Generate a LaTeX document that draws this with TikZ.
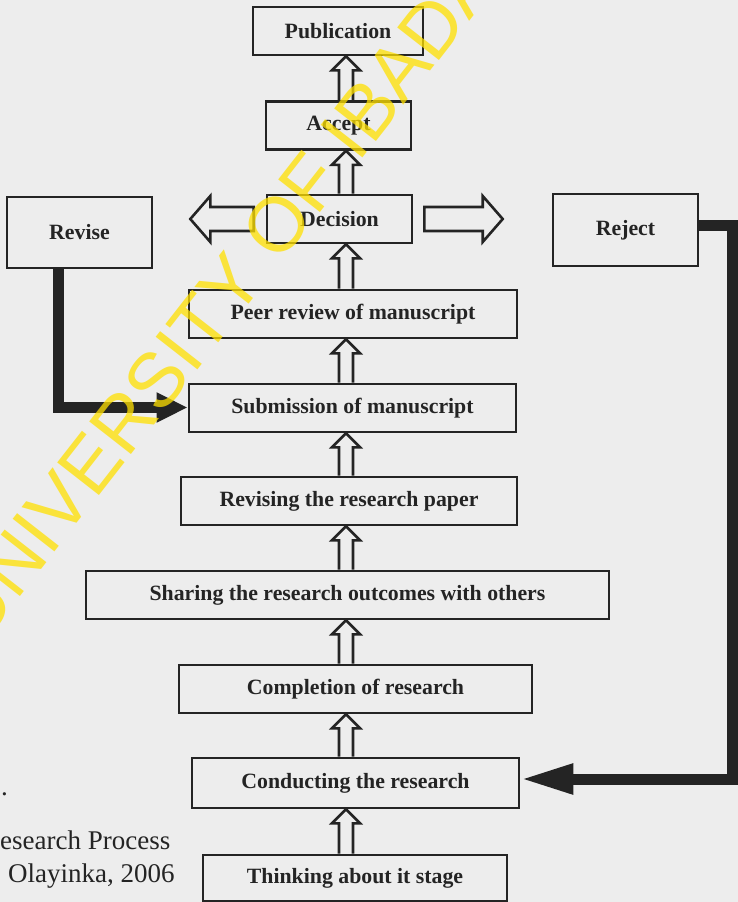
\documentclass[tikz,border=0pt]{standalone}
\usepackage{fontspec}
\setmainfont{Liberation Serif}
\newfontfamily\wmfont{Liberation Sans}
\usetikzlibrary{arrows.meta,calc}
\definecolor{paper}{RGB}{237,237,237}
\definecolor{ink}{RGB}{36,36,36}
\definecolor{wmyellow}{RGB}{255,224,0}
\begin{document}
\begin{tikzpicture}[x=1pt,y=-1pt,
  box/.style={draw=ink, line width=2.6pt, inner sep=0pt, minimum height=48pt,
    font=\fontsize{21.8}{24}\selectfont\bfseries, text=ink},
  thickconn/.style={draw=ink, line width=11pt, line join=miter},
  hollowup/.style={draw=ink, line width=2.6pt, line join=miter,
    to path={let \p1=(\tikztostart), \p2=(\tikztotarget) in
      (\x1-7pt,\y1) -- (\x1-7pt,\y2-14pt) -- (\x1-14pt,\y2-14pt) -- (\x1,\y2)
      -- (\x1+14pt,\y2-14pt) -- (\x1+7pt,\y2-14pt) -- (\x1+7pt,\y1)}},
  hollowh/.style={draw=ink, line width=2.6pt, line join=miter,
    to path={let \p1=(\tikztostart), \p2=(\tikztotarget), \n1={sign(\x2-\x1)} in
      (\x1,\y1+12pt) -- (\x2-\n1*20pt,\y1+12pt) -- (\x2-\n1*20pt,\y1+23pt) -- (\x2,\y1)
      -- (\x2-\n1*20pt,\y1-23pt) -- (\x2-\n1*20pt,\y1-12pt) -- (\x1,\y1-12pt) -- cycle}},
  caption/.style={anchor=base west, inner sep=0pt, font=\fontsize{27}{30}\selectfont, text=ink}
]
\useasboundingbox (0,0) rectangle (738,902);
\fill[paper] (0,0) rectangle (738,902);

% boxes
\node[box, minimum width=170pt] (pub) at (338,31) {Publication};
\node[box, minimum width=145pt] (acc) at (338.5,125.5) {Accept};
\node[box, minimum width=145pt] (dec) at (339.5,219) {Decision};
\node[box, minimum width=145pt, minimum height=71pt] (rev) at (79.5,232.5) {Revise};
\node[box, minimum width=145pt, minimum height=72pt] (rej) at (625.5,230) {Reject};
\node[box, minimum width=328pt] (peer) at (353,314) {Peer review of manuscript};
\node[box, minimum width=327pt] (sub) at (352.5,408) {Submission of manuscript};
\node[box, minimum width=336pt] (revp) at (349,501) {Revising the research paper};
\node[box, minimum width=523pt] (share) at (347.5,595) {Sharing the research outcomes with others};
\node[box, minimum width=353pt] (comp) at (355.5,689) {Completion of research};
\node[box, minimum width=327pt, minimum height=50pt] (cond) at (355.5,783) {Conducting the research};
\node[box, minimum width=304pt, minimum height=46pt] (think) at (355,878) {Thinking about it stage};

% axis of the hollow arrows
\coordinate (ax) at (346,0);

\draw[hollowup] (think.north -| ax) to (cond.south -| ax);
\draw[hollowup] (cond.north -| ax) to (comp.south -| ax);
\draw[hollowup] (comp.north -| ax) to (share.south -| ax);
\draw[hollowup] (share.north -| ax) to (revp.south -| ax);
\draw[hollowup] (revp.north -| ax) to (sub.south -| ax);
\draw[hollowup] (sub.north -| ax) to (peer.south -| ax);
\draw[hollowup] (peer.north -| ax) to (dec.south -| ax);
\draw[hollowup] (dec.north -| ax) to (acc.south -| ax);
\draw[hollowup] (acc.north -| ax) to (pub.south -| ax);

% horizontal hollow arrows
\draw[hollowh] ([xshift=-12pt]dec.west) to ([xshift=37pt]rev.east);
\draw[hollowh] ([xshift=11pt]dec.east) to ([xshift=-49pt]rej.west);

% thick connectors
\coordinate (rvx) at (58,0);
\coordinate (subin) at ([yshift=0.5pt]sub.west);
\draw[thickconn, -{Triangle[length=31pt,width=28pt]}] (rev.south -| rvx) |- (subin);

\coordinate (rejout) at ([yshift=5pt]rej.east);
\coordinate (condin) at ([yshift=4pt]cond.east);
\coordinate (rc) at (732,500);
\draw[thickconn, -{Triangle[length=53pt,width=28pt]}] (rejout) -| (rc) |- (condin);

% caption text
\node[caption] (dot) at (1,795) {.};
\node[caption] (cap1) at (0,849) {esearch Process};
\node[caption] (cap2) at (8,882) {Olayinka, 2006};

% watermark
\node[text=wmyellow, opacity=0.75, rotate=52, inner sep=0pt,
  font=\wmfont\fontsize{77}{80}\selectfont] (wm) at (238,275) {UNIVERSITY OF IBADAN};
\end{tikzpicture}
\end{document}
